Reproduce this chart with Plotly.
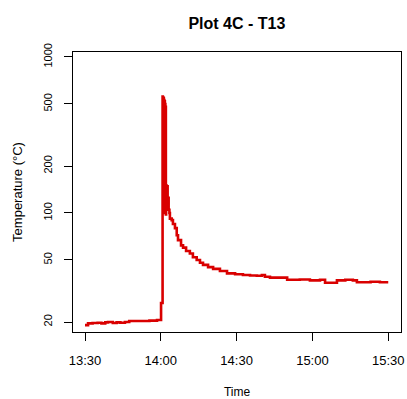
import datetime as dt
import plotly.graph_objects as go

# ---- data ----
minutes_after_1330 = [
    0.0, 1.2, 3.0, 5.0, 6.5, 8.0, 9.1, 11.0, 12.5, 14.0, 15.8, 17.5, 20.0, 23.0, 25.5, 28.5,
    30.1, 30.7, 30.8, 30.9, 31.0, 31.1, 31.2, 31.3, 31.4, 31.5, 31.6, 31.7, 31.8, 31.9, 32.0,
    32.1, 32.3, 32.5, 32.7, 32.9, 33.1, 33.4, 33.6, 34.3, 34.8, 35.6, 36.3, 36.8, 38.0, 38.8,
    40.0, 41.5, 42.7, 44.2, 45.5, 46.7, 48.7, 50.7, 53.4, 56.2, 59.4, 62.5, 65.3, 68.0, 70.0,
    71.2, 73.2, 78.4, 80.0, 85.0, 89.0, 93.0, 95.0, 98.0, 99.7, 103.0, 106.0, 107.6, 113.0,
    116.7, 120.0,
]
temperature_c = [
    19.1, 19.6, 19.7, 19.8, 19.6, 19.9, 20.0, 19.7, 19.9, 19.8, 20.0, 20.3, 20.3, 20.3, 20.4, 20.6,
    26.5, 557, 110, 550, 105, 545, 100, 530, 108, 520, 100, 500, 102, 480, 98,
    150, 105, 148, 110, 125, 105, 100, 92, 90, 85, 80, 72, 67, 62, 60,
    57, 55, 52, 50, 48, 46.5, 45, 43.8, 42.5, 41, 40.5, 40, 39.7, 39.6, 40,
    39, 38.5, 38.5, 37.3, 37.5, 37.0, 37.3, 35.7, 35.7, 37.0, 37.3, 37.0, 36.0, 36.2,
    36.0, 36.0,
]
x_tick_labels = ["13:30", "14:00", "14:30", "15:00", "15:30"]
y_tick_values = [20, 50, 100, 200, 500, 1000]

base = dt.datetime(2020, 1, 1, 13, 30, 0)
times = [base + dt.timedelta(minutes=m) for m in minutes_after_1330]
x_ticks = [dt.datetime(2020, 1, 1, int(t[:2]), int(t[3:])) for t in x_tick_labels]

fig = go.Figure(
    go.Scatter(
        x=times, y=temperature_c, mode="lines",
        line=dict(color="#D90000", width=2.6, shape="hv"),
        showlegend=False, hoverinfo="skip",
    )
)

font = "Liberation Sans, Arial, sans-serif"
fig.update_layout(
    width=407, height=399,
    margin=dict(l=73, r=6, t=52, b=67, autoexpand=False),
    paper_bgcolor="white", plot_bgcolor="white",
    font=dict(family=font, color="black"),
    title=dict(text="<b>Plot 4C - T13</b>", x=0.582, xanchor="center",
               y=1 - 23.5 / 399, yanchor="middle", font=dict(size=16, family=font)),
)
fig.update_xaxes(
    type="date", automargin=False,
    range=[base + dt.timedelta(minutes=-4.75), base + dt.timedelta(minutes=125.05)],
    tickvals=x_ticks, ticktext=x_tick_labels,
    ticks="outside", ticklen=8, tickwidth=1, tickcolor="black",
    showline=True, linecolor="black", linewidth=1, mirror=True,
    showgrid=False, zeroline=False,
    tickfont=dict(size=13), ticklabelstandoff=8,
    title=dict(text="Time", font=dict(size=12), standoff=21),
)
fig.update_yaxes(
    type="log", automargin=False, range=[1.237, 3.032],
    tickvals=y_tick_values, ticktext=[str(v) for v in y_tick_values],
    ticks="outside", ticklen=8, tickwidth=1, tickcolor="black",
    showline=True, linecolor="black", linewidth=1, mirror=True,
    showgrid=False, zeroline=False,
    tickangle=-90, tickfont=dict(size=11), ticklabelstandoff=8,
    title=dict(text="Temperature (°C)", font=dict(size=13), standoff=16),
)

fig.write_html("out.html")
